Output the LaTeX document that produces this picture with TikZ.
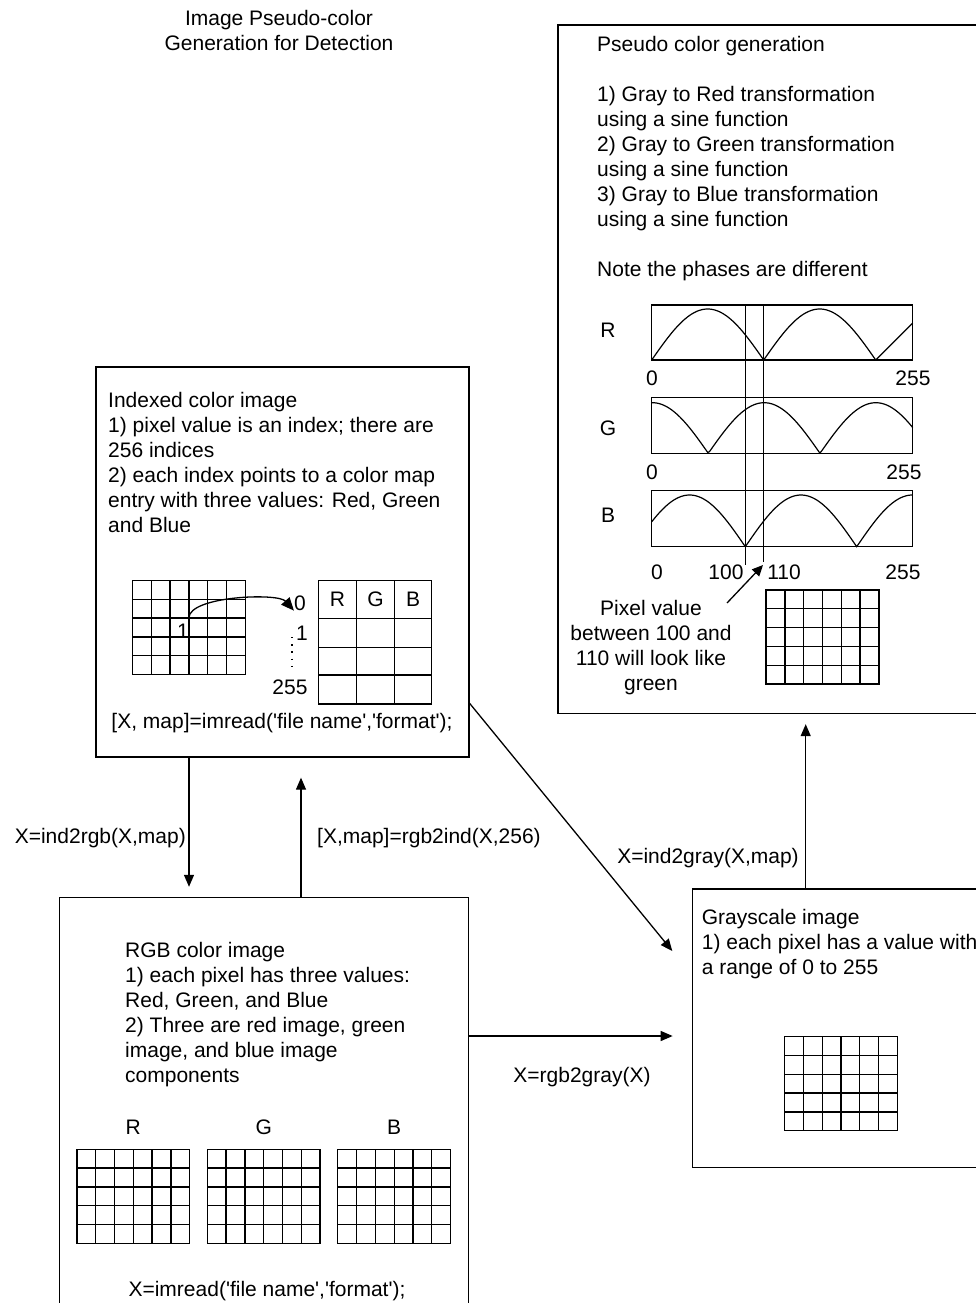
\documentclass[tikz,border=0pt]{standalone}
\usepackage{fontspec}
\setmainfont{Liberation Sans}
\usetikzlibrary{arrows.meta, positioning, calc}
\newcommand{\aq}{\textquotesingle}

\begin{document}
\begin{tikzpicture}[x=1pt, y=-1pt,
  every node/.style={font=\fontsize{21pt}{25pt}\selectfont},
  panel/.style={draw, line width=1.3pt, inner sep=0pt},
  txt/.style={align=left, anchor=north west, inner sep=0pt},
  lbl/.style={inner sep=0pt},
  pixgrid/.style={
    draw, line width=1.3pt, inner sep=0pt,
    minimum width=112.8pt, minimum height=94pt,
    path picture={
      \foreach \k [evaluate=\k as \dx using \k*18.8] in {1,...,5}
        \draw[line width=1.3pt] ([xshift=\dx pt]path picture bounding box.north west)
          -- ([xshift=\dx pt]path picture bounding box.south west);
      \foreach \k [evaluate=\k as \dy using \k*18.8] in {1,...,4}
        \draw[line width=1.3pt] ([yshift=-\dy pt]path picture bounding box.north west)
          -- ([yshift=-\dy pt]path picture bounding box.north east);
    }},
  arr/.style={-{Triangle[length=12pt,width=10pt]}, line width=1.3pt},
  wave/.style={line width=1.2pt, samples=150},
]
\useasboundingbox (0,0) rectangle (976,1303);
\clip (0,0) rectangle (976,1303);

\node[align=center, anchor=north, inner sep=0pt] (title) at (279,10.2)
  {Image Pseudo-color\\Generation for Detection};

% pseudo color panel
\node[panel, minimum width=432pt, minimum height=688.5pt] (pseudo) at (774,369.25) {};
\node[txt] (pseudotxt) at (597,36.2)
  {Pseudo color generation\\[25pt]
   1) Gray to Red transformation\\using a sine function\\
   2) Gray to Green transformation\\using a sine function\\
   3) Gray to Blue transformation\\using a sine function\\[25pt]
   Note the phases are different};

\node[panel, minimum width=261pt, minimum height=55pt]   (plotR) at (782.2,332.5) {};
\node[panel, minimum width=261pt, minimum height=55.6pt] (plotG) at (782.2,425.5) {};
\node[panel, minimum width=261pt, minimum height=56pt]   (plotB) at (782.2,518.7) {};
\node[lbl] (labR) at (608,330) {R};
\node[lbl] (labG) at (608,428) {G};
\node[lbl] (labB) at (608,515) {B};
\node[lbl] (r0)   at (652,378) {0};
\node[lbl] (r255) at (913,378) {255};
\node[lbl] (g0)   at (652,472) {0};
\node[lbl] (g255) at (904,472) {255};
\node[lbl] (b0)   at (657,572) {0};
\node[lbl] (b100) at (726,572) {100};
\node[lbl] (b110) at (784,572) {110};
\node[lbl] (b255) at (903,572) {255};

\draw[wave] plot[domain=651.7:875.7] (\x, {360-51*abs(sin((\x-651.7)/112*180))})
  -- (912.7,323);
\draw[wave] plot[domain=651.7:912.7] (\x, {453.3-50.6*abs(sin((\x-708.3)/111.7*180))});
\draw[wave] plot[domain=651.7:912.7] (\x, {546.7-51.7*abs(sin((\x-745.3)/111.4*180))});

\draw[line width=1.3pt] (745.3,305) -- (745.3,565);
\draw[line width=1.3pt] (763.7,305) -- (763.7,562);

\node[align=center, anchor=north, inner sep=0pt] (pixnote) at (651,600)
  {Pixel value\\between 100 and\\110 will look like\\green};
\coordinate (ptrfrom) at (727,603);
\coordinate (ptrto) at (763,565);
\draw[arr, -{Triangle[length=11pt,width=10pt]}] (ptrfrom) -- (ptrto);
\node[pixgrid] (pseudogrid) at (822.5,637) {};

% indexed color panel
\node[panel, minimum width=373pt, minimum height=390pt] (idx) at (282.5,562) {};
\node[txt] (idxtxt) at (108,392.2)
  {Indexed color image\\1) pixel value is an index; there are\\256 indices\\
   2) each index points to a color map\\entry with three values: Red, Green\\and Blue};
\node[pixgrid] (idxgrid) at (188.9,627.5) {};
\node[lbl] (pix1) at (183,631) {1};

\node[panel, minimum width=113.4pt, minimum height=123.3pt] (cmap) at (375,642.35) {};
\foreach \cx in {356.7,394.3}
  \draw[line width=1.3pt] (\cx,580.7) -- (\cx,704);
\foreach \cy in {618.3,647.3,675}
  \draw[line width=1.3pt] (318.3,\cy) -- (431.7,\cy);
\foreach \c/\cx in {R/337.5, G/375.5, B/413}
  \node[lbl] (cm\c) at (\cx,599.5) {\c};
\node[lbl] (cm0)   at (300,603) {0};
\node[lbl] (cm1)   at (302,633) {1};
\node[lbl] (cm255) at (290,687) {255};
\coordinate (dtop) at (292,637);
\coordinate (dbot) at (292,666);
\draw[line width=1.4pt, dash pattern=on 1.4pt off 5.8pt] (dtop) -- (dbot);

\draw[arr, -{Triangle[length=13pt,width=11pt]}] ([yshift=9.5pt]idxgrid.center)
  .. controls +(0,-22) and +(-16,-18) .. (cm0.south west);

\node (idxcode) at (282,723) {[X, map]=imread(\aq file name\aq,\aq format\aq);};

% RGB color panel
\node[panel, minimum width=409pt, minimum height=445.4pt] (rgb) at (264,1120.15) {};
\node[txt] (rgbtxt) at (125,942.2)
  {RGB color image\\1) each pixel has three values:\\Red, Green, and Blue\\
   2) Three are red image, green\\image, and blue image\\components};
\foreach \c/\cx in {R/133.3, G/263.7, B/394.2} {
  \node[lbl] (rgblab\c) at (\cx,1127) {\c};
  \node[pixgrid] (rgbgrid\c) at (\cx,1196.3) {};
}
\node (rgbcode) at (267,1291) {X=imread(\aq file name\aq,\aq format\aq);};

% grayscale panel
\node[panel, minimum width=307.7pt, minimum height=278.3pt] (gray) at (846.15,1028.15) {};
\node[txt] (graytxt) at (701.7,908.9)
  {Grayscale image\\1) each pixel has a value with\\a range of 0 to 255};
\node[pixgrid] (graygrid) at (841,1083.7) {};

% conversions
\draw[arr, shorten >=10pt] ([xshift=-93.5pt]idx.south) -- ([xshift=-93.5pt]idx.south |- rgb.north);
\node[lbl, anchor=east] (ind2rgb) at (186,838) {X=ind2rgb(X,map)};

\draw[arr, shorten >=20pt] ([xshift=37pt]rgb.north) -- ([xshift=37pt]rgb.north |- idx.south);
\node[lbl, anchor=west] (rgb2ind) at (317,838) {[X,map]=rgb2ind(X,256)};

\draw[arr, shorten >=30.5pt] ([yshift=54.3pt]idx.south east) -- ([yshift=-86.3pt]gray.north west);
\node[lbl] (ind2gray) at (708,858) {X=ind2gray(X,map)};

\draw[arr, shorten >=19pt] ([yshift=84.15pt]rgb.east) -- ([yshift=84.15pt]rgb.east -| gray.west);
\node[lbl] (rgb2gray) at (582,1077) {X=rgb2gray(X)};

\draw[arr, shorten >=10pt] ([xshift=-40.45pt]gray.north) -- ([xshift=-40.45pt]gray.north |- pseudo.south);

\end{tikzpicture}
\end{document}
